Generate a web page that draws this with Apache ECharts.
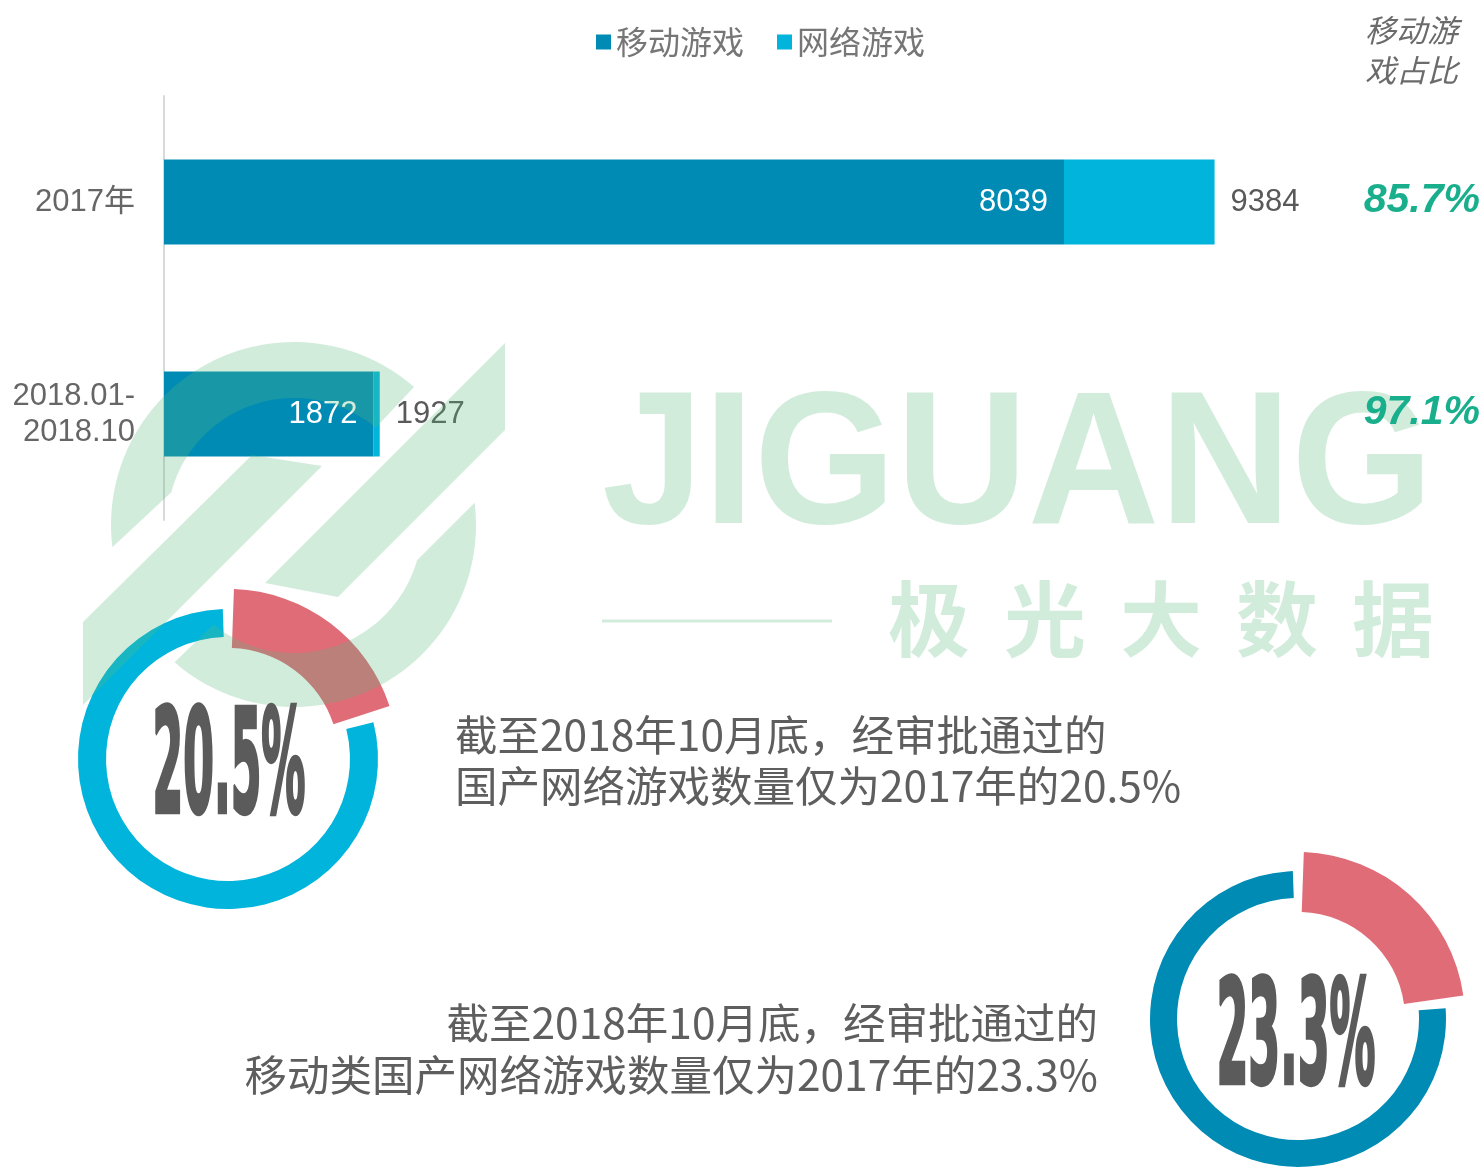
<!DOCTYPE html>
<html>
<head>
<meta charset="utf-8">
<script src="https://cdn.jsdelivr.net/npm/echarts@6/dist/echarts.min.js"></script>
<style>
  html, body { margin: 0; padding: 0; background: #fff; }
  #chart { width: 1484px; height: 1173px; }
</style>
</head>
<body>
<div id="chart"></div>
<script>
// 数据
const categories = ['2017年', '2018.01-\n2018.10'];
const mobileGames = [8039, 1872];
const onlineGames = [1345, 55];
const totalGames = [9384, 1927];
const mobileShare = ['85.7%', '97.1%'];
const ratioValues = [20.5, 23.3];
const ratioTexts = [
  '截至2018年10月底，经审批通过的\n国产网络游戏数量仅为2017年的20.5%',
  '截至2018年10月底，经审批通过的\n移动类国产网络游戏数量仅为2017年的23.3%'
];

const C_MOBILE = '#008bb5';
const C_ONLINE = '#00b4dc';
const C_RED = '#e06c78';
const C_GREEN = '#1aaf8c';
const C_TEXT = '#666';
const WM = 'rgba(90,183,124,0.27)';
const FONT = '"Liberation Sans", "Noto Sans CJK SC", sans-serif';
const CJK = '"Noto Sans CJK SC", "Liberation Sans", sans-serif';

const chart = echarts.init(document.getElementById('chart'));

// 环形图：底环 + 突出的红色扇区
function donut(center, share, ringColor, ringR, redR) {
  const common = {
    type: 'pie', center: center, startAngle: 90, padAngle: 4,
    silent: true, animation: false,
    label: { show: false }, labelLine: { show: false },
    emphasis: { disabled: true }
  };
  return [
    Object.assign({}, common, {
      radius: ringR,
      data: [
        { value: share, itemStyle: { color: 'rgba(0,0,0,0)' } },
        { value: 100 - share, itemStyle: { color: ringColor } }
      ]
    }),
    Object.assign({}, common, {
      radius: redR,
      data: [
        { value: share, itemStyle: { color: C_RED } },
        { value: 100 - share, itemStyle: { color: 'rgba(0,0,0,0)' } }
      ]
    })
  ];
}

const option = {
  animation: false,
  legend: {
    data: ['移动游戏', '网络游戏'],
    left: 596, top: 26, padding: 0,
    icon: 'rect', itemWidth: 15, itemHeight: 15, itemGap: 33,
    textStyle: { fontSize: 32, color: '#767676', fontFamily: CJK },
    selectedMode: false
  },
  grid: { left: 164, top: 96, bottom: 653, right: 88.5, containLabel: false },
  xAxis: { type: 'value', min: 0, max: 11000, show: false },
  yAxis: {
    type: 'category', inverse: true, data: categories,
    axisLine: { show: true, lineStyle: { color: '#d9d9d9', width: 2 } },
    axisTick: { show: false },
    axisLabel: { fontSize: 31, color: C_TEXT, lineHeight: 36, margin: 29, fontFamily: FONT }
  },
  series: [
    {
      name: '移动游戏', type: 'bar', stack: 'total', barWidth: 85,
      data: mobileGames, itemStyle: { color: C_MOBILE },
      label: { show: true, position: 'insideRight', distance: 16, color: '#fff', fontSize: 31, fontFamily: FONT }
    },
    {
      name: '网络游戏', type: 'bar', stack: 'total', barWidth: 85,
      data: onlineGames, itemStyle: { color: C_ONLINE },
      label: {
        show: true, position: 'right', distance: 16, color: '#595959', fontSize: 31, fontFamily: FONT,
        formatter: p => totalGames[p.dataIndex]
      }
    }
  ].concat(
    donut([228, 759], ratioValues[0], C_ONLINE, [122, 150], [111, 170]),
    donut([1298, 1019], ratioValues[1], C_MOBILE, [121, 148], [107, 167])
  )
};

chart.setOption(option);

// 水印多边形（环段）
function ringPoly(cx, cy, r0, r, o1, o2, i1, i2) {
  const pts = [];
  const step = (o2 - o1) / 60;
  for (let k = 0; k <= 60; k++) {
    const a = (o1 + step * k) * Math.PI / 180;
    pts.push([cx + r * Math.cos(a), cy + r * Math.sin(a)]);
  }
  const step2 = (i2 - i1) / 60;
  for (let k = 60; k >= 0; k--) {
    const a = (i1 + step2 * k) * Math.PI / 180;
    pts.push([cx + r0 * Math.cos(a), cy + r0 * Math.sin(a)]);
  }
  return pts;
}

const graphics = [];

// 右侧标题
graphics.push({
  type: 'text', x: 1365, y: 10, z: 10,
  style: {
    text: '移动游\n戏占比', font: 'italic 31px ' + CJK, fill: '#6b6b6b',
    lineHeight: 40, textAlign: 'left', textVerticalAlign: 'top', align: 'left', verticalAlign: 'top'
  }
});

// 移动游戏占比
categories.forEach((c, i) => {
  const y = chart.convertToPixel({ yAxisIndex: 0 }, i);
  graphics.push({
    type: 'text', x: 1480, y: y - 1, z: 10,
    style: {
      text: mobileShare[i], font: 'italic bold 41px ' + FONT, fill: C_GREEN,
      textAlign: 'right', textVerticalAlign: 'middle', align: 'right', verticalAlign: 'middle'
    }
  });
});

// 环形中心数字
[[229, 774], [1296, 1045]].forEach((pos, i) => {
  graphics.push({
    type: 'text', x: pos[0], y: pos[1], scaleX: i === 0 ? 0.49 : 0.51, scaleY: 1.45, z: 10,
    style: {
      text: ratioValues[i].toFixed(1) + '%', font: 'bold 100px "DejaVu Sans Condensed", "DejaVu Sans", sans-serif',
      fill: '#5b5b5b', stroke: '#5b5b5b', lineWidth: 3,
      textAlign: 'center', textVerticalAlign: 'middle', align: 'center', verticalAlign: 'middle'
    }
  });
});

// 说明文字
graphics.push({
  type: 'text', x: 455, y: 760, z: 10,
  style: {
    text: ratioTexts[0], font: '42.5px ' + CJK, fill: '#5e5e5e', lineHeight: 51,
    textAlign: 'left', textVerticalAlign: 'middle', align: 'left', verticalAlign: 'middle'
  }
});
graphics.push({
  type: 'text', x: 1098, y: 1049, z: 10,
  style: {
    text: ratioTexts[1], font: '42.5px ' + CJK, fill: '#5e5e5e', lineHeight: 52,
    textAlign: 'right', textVerticalAlign: 'middle', align: 'right', verticalAlign: 'middle'
  }
});

// 水印
graphics.push({ type: 'polygon', z: 5, silent: true, shape: { points: ringPoly(294, 525, 127, 183, 173, 311, 195, 310) }, style: { fill: WM } });
graphics.push({ type: 'polygon', z: 5, silent: true, shape: { points: ringPoly(294, 525, 128, 182, -7, 131, 16, 129) }, style: { fill: WM } });
graphics.push({ type: 'polygon', z: 5, silent: true, shape: { points: [[83, 622], [252, 455], [322, 466], [83, 705]] }, style: { fill: WM } });
graphics.push({ type: 'polygon', z: 5, silent: true, shape: { points: [[265, 583], [505, 343], [505, 430], [338, 597]] }, style: { fill: WM } });
graphics.push({
  type: 'text', x: 602, y: 471, z: 5, silent: true, scaleX: 0.96,
  style: {
    text: 'JIGUANG', font: 'bold 190px "Liberation Sans", sans-serif', fill: WM,
    textAlign: 'left', textVerticalAlign: 'middle', align: 'left', verticalAlign: 'middle'
  }
});
graphics.push({ type: 'line', z: 5, silent: true, shape: { x1: 602, y1: 621, x2: 832, y2: 621 }, style: { stroke: WM, lineWidth: 3 } });
'极光大数据'.split('').forEach((ch, k) => {
  graphics.push({
    type: 'text', x: 929 + k * 116, y: 619, z: 5, silent: true,
    style: {
      text: ch, font: 'bold 82px ' + CJK, fill: WM,
      textAlign: 'center', textVerticalAlign: 'middle', align: 'center', verticalAlign: 'middle'
    }
  });
});

chart.setOption({ graphic: graphics });
</script>
</body>
</html>
